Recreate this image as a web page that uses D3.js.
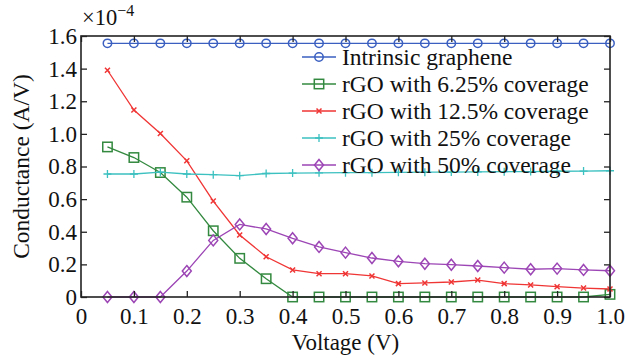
<!DOCTYPE html>
<html>
<head>
<meta charset="utf-8">
<script src="https://cdn.jsdelivr.net/npm/d3@7"></script>
<style>
body { margin: 0; background: #fff; }
</style>
</head>
<body>
<script>
var width = 626, height = 360;
var margin = {left: 81, right: 16, top: 36, bottom: 63};
var FONT = "Liberation Serif";

var voltage = [0.05, 0.1, 0.15, 0.2, 0.25, 0.3, 0.35, 0.4, 0.45, 0.5,
               0.55, 0.6, 0.65, 0.7, 0.75, 0.8, 0.85, 0.9, 0.95, 1.0];

var intrinsic = [1.555, 1.555, 1.555, 1.555, 1.555, 1.555, 1.555, 1.555, 1.555, 1.555,
                 1.555, 1.555, 1.555, 1.555, 1.555, 1.555, 1.555, 1.555, 1.555, 1.555];
var cov625 = [0.92, 0.855, 0.763, 0.612, 0.406, 0.237, 0.112, 0, 0, 0,
              0, 0, 0, 0, 0, 0, 0, 0, 0, 0.016];
var cov125 = [1.39, 1.146, 1.002, 0.835, 0.588, 0.38, 0.247, 0.166, 0.143, 0.143,
              0.129, 0.082, 0.086, 0.092, 0.104, 0.082, 0.074, 0.063, 0.055, 0.049];
var cov25 = [0.754, 0.754, 0.765, 0.754, 0.75, 0.744, 0.757, 0.76, 0.761, 0.762,
             0.762, 0.764, 0.765, 0.766, 0.767, 0.768, 0.769, 0.771, 0.772, 0.774];
var cov50 = [0, 0, 0, 0.159, 0.347, 0.445, 0.417, 0.36, 0.307, 0.272,
             0.239, 0.219, 0.204, 0.198, 0.19, 0.18, 0.17, 0.174, 0.166, 0.161];

var seriesNames = ["Intrinsic graphene", "rGO with 6.25% coverage", "rGO with 12.5% coverage",
                   "rGO with 25% coverage", "rGO with 50% coverage"];
var colors = ["#3a5fc0", "#33893f", "#f03535", "#3cc0c0", "#9c45b5"];
var symbols = ["circle", "square", "cross", "plus", "diamond"];

var xTicks = [0, 0.1, 0.2, 0.3, 0.4, 0.5, 0.6, 0.7, 0.8, 0.9, 1.0];
var yTicks = [0, 0.2, 0.4, 0.6, 0.8, 1.0, 1.2, 1.4, 1.6];

var series = [intrinsic, cov625, cov125, cov25, cov50].map(function(vals, i) {
  return {name: seriesNames[i], color: colors[i], sym: symbols[i],
          values: vals.map(function(v, j) { return {x: voltage[j], y: v}; })};
});

var x = d3.scaleLinear().domain([0, 1]).range([margin.left, width - margin.right]);
var y = d3.scaleLinear().domain([0, 1.6]).range([height - margin.bottom, margin.top]);

var svg = d3.select("body").append("svg")
    .attr("width", width)
    .attr("height", height);

var line = d3.line().x(function(d) { return x(d.x); }).y(function(d) { return y(d.y); });

function drawMarker(g, sym, color, cx, cy) {
  if (sym == "circle") {
    g.append("circle").attr("cx", cx).attr("cy", cy).attr("r", 4.2)
     .attr("fill", "none").attr("stroke", color).attr("stroke-width", 1.5);
  } else if (sym == "square") {
    g.append("rect").attr("x", cx - 4.7).attr("y", cy - 4.7).attr("width", 9.4).attr("height", 9.4)
     .attr("fill", "none").attr("stroke", color).attr("stroke-width", 1.5);
  } else if (sym == "diamond") {
    g.append("path").attr("d", "M" + cx + "," + (cy - 5.5) + "L" + (cx + 4.5) + "," + cy +
        "L" + cx + "," + (cy + 5.5) + "L" + (cx - 4.5) + "," + cy + "Z")
     .attr("fill", "none").attr("stroke", color).attr("stroke-width", 1.5);
  } else if (sym == "cross") {
    g.append("path").attr("d", "M" + (cx - 2.5) + "," + (cy - 2.5) + "L" + (cx + 2.5) + "," + (cy + 2.5) +
        "M" + (cx - 2.5) + "," + (cy + 2.5) + "L" + (cx + 2.5) + "," + (cy - 2.5))
     .attr("stroke", color).attr("stroke-width", 1.5);
  } else {
    g.append("path").attr("d", "M" + (cx - 4) + "," + cy + "L" + (cx + 4) + "," + cy +
        "M" + cx + "," + (cy - 4) + "L" + cx + "," + (cy + 4))
     .attr("stroke", color).attr("stroke-width", 1.3);
  }
}

// series
series.forEach(function(s) {
  svg.append("path")
     .datum(s.values)
     .attr("d", line)
     .attr("fill", "none")
     .attr("stroke", s.color)
     .attr("stroke-width", 1.3);
  var g = svg.append("g");
  s.values.forEach(function(d) { drawMarker(g, s.sym, s.color, x(d.x), y(d.y)); });
});

// axes box with inward ticks
var x0 = x(0), x1 = x(1), y0 = y(0), y1 = y(1.6);
svg.append("rect").attr("x", x0).attr("y", y1).attr("width", x1 - x0).attr("height", y0 - y1)
   .attr("fill", "none").attr("stroke", "#222").attr("stroke-width", 1.6);

var fmt = function(d) { return d == 0 ? "0" : d3.format(".1f")(d); };

svg.append("g").attr("transform", "translate(0," + y0 + ")")
   .call(d3.axisBottom(x).tickValues(xTicks).tickSize(-6).tickPadding(11).tickFormat(fmt))
   .call(function(g) { g.select(".domain").remove(); });
svg.append("g").attr("transform", "translate(0," + y1 + ")")
   .call(d3.axisTop(x).tickValues(xTicks).tickSize(-6).tickFormat(""))
   .call(function(g) { g.select(".domain").remove(); });
svg.append("g").attr("transform", "translate(" + x0 + ",0)")
   .call(d3.axisLeft(y).tickValues(yTicks).tickSize(-6).tickPadding(4).tickFormat(fmt))
   .call(function(g) { g.select(".domain").remove(); });
svg.append("g").attr("transform", "translate(" + x1 + ",0)")
   .call(d3.axisRight(y).tickValues(yTicks).tickSize(-6).tickFormat(""))
   .call(function(g) { g.select(".domain").remove(); });

svg.selectAll(".tick line").attr("stroke", "#222").attr("stroke-width", 1.3);

// exponent
var ex = svg.append("text").attr("x", x0 + 1).attr("y", 25).attr("font-size", 22.5);
ex.append("tspan").text("×10");
ex.append("tspan").attr("dy", -9).attr("font-size", 16).text("−4");

// axis titles
svg.append("text").attr("x", (x0 + x1) / 2).attr("y", 350)
   .attr("text-anchor", "middle").attr("font-size", 23).text("Voltage (V)");
svg.append("text").attr("transform", "translate(29," + ((y0 + y1) / 2) + ") rotate(-90)")
   .attr("text-anchor", "middle").attr("font-size", 23.5).text("Conductance (A/V)");

// legend
var legend = svg.append("g");
series.forEach(function(s, i) {
  var ly = 57 + i * 27;
  legend.append("line").attr("x1", 302).attr("x2", 336).attr("y1", ly).attr("y2", ly)
        .attr("stroke", s.color).attr("stroke-width", 1.3);
  drawMarker(legend, s.sym, s.color, 319, ly);
  legend.append("text").attr("x", 342).attr("y", ly + 8).attr("font-size", 23.5).text(s.name);
});

// every text gets the serif face directly
svg.selectAll(".tick text").attr("font-size", 23);
svg.selectAll("text, tspan").attr("font-family", FONT).attr("fill", "#111");
</script>
</body>
</html>
